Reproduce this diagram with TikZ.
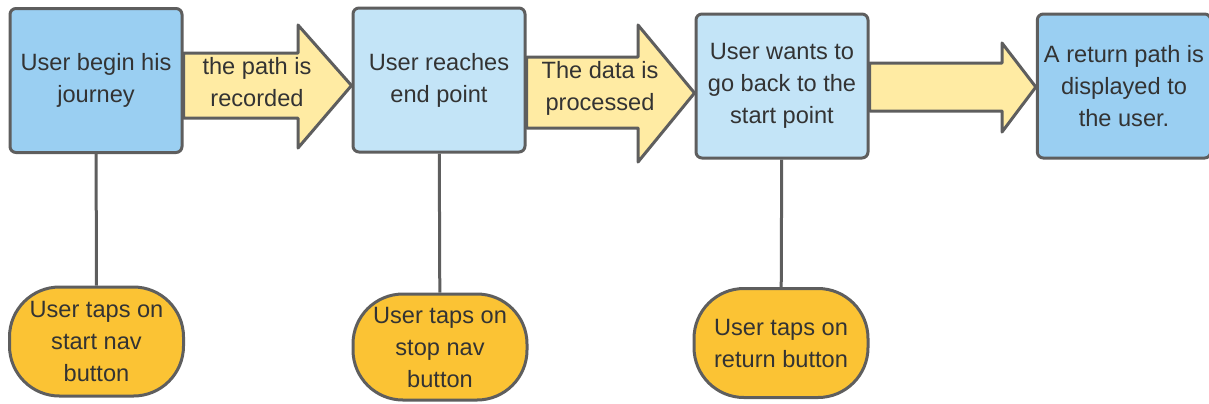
\documentclass[tikz,border=0pt]{standalone}
\usepackage{fontspec}
\setmainfont{Liberation Sans}
\usetikzlibrary{backgrounds}
\definecolor{edge}{HTML}{5E5E5E}
\definecolor{ink}{HTML}{333333}
\definecolor{boxdark}{HTML}{9ACFF2}
\definecolor{boxlight}{HTML}{C3E4F7}
\definecolor{arrowfill}{HTML}{FFEBA3}
\definecolor{tapfill}{HTML}{FBC334}
\tikzset{
  stepbox/.style={draw=edge, line width=1.5pt, rounded corners=3pt, minimum width=86pt, minimum height=72pt, align=center, text=ink, font=\fontsize{11.8}{16}\selectfont},
  darkstep/.style={stepbox, fill=boxdark},
  lightstep/.style={stepbox, fill=boxlight},
  tapnode/.style={draw=edge, fill=tapfill, line width=1.5pt, rounded corners=25pt, minimum width=87pt, minimum height=54.5pt, align=center, text=ink, font=\fontsize{11.8}{16}\selectfont},
  flowarrow/.style={draw=edge, fill=arrowfill, line width=1.5pt, line join=round},
  arrowtext/.style={align=center, text=ink, font=\fontsize{11.8}{16}\selectfont},
  tapline/.style={draw=edge, line width=1.5pt},
}
\begin{document}
\begin{tikzpicture}[x=0.5pt, y=-0.5pt]
\useasboundingbox (0,0) rectangle (1209,403);
% steps along the top
\node[darkstep] (begin) at (96,80.5) {User begin his\\journey};
\node[lightstep] (reach) at (439,80) {User reaches\\end point};
\node[lightstep] (goback) at (782,86) {User wants to\\go back to the\\start point};
\node[darkstep, minimum width=85pt] (shown) at (1124,86) {A return path is\\displayed to\\the user.};
% taps underneath
\node[tapnode] (tapstart) at (96.5,341.5) {User taps on\\start nav\\button};
\node[tapnode, minimum height=53pt] (tapstop) at (440,347) {User taps on\\stop nav\\button};
\node[tapnode] (tapreturn) at (781,343) {User taps on\\return button};
\draw[tapline] (begin) -- (tapstart);
\draw[tapline] (reach) -- (tapstop);
\draw[tapline] (goback) -- (tapreturn);
% block arrows
\begin{pgfonlayer}{background}
\draw[flowarrow] (begin.east |- 0,53) -- (298,53) -- (298,25) -- (reach.west |- 0,85.5) -- (298,148) -- (298,118) -- (begin.east |- 0,118) -- cycle;
\draw[flowarrow] (reach.east |- 0,57) -- (638,57) -- (638,25) -- (goback.west |- 0,93) -- (638,162) -- (638,128) -- (reach.east |- 0,128) -- cycle;
\draw[flowarrow] (goback.east |- 0,63) -- (1002,63) -- (1002,43) -- (shown.west |- 0,87) -- (1002,132) -- (1002,111) -- (goback.east |- 0,111) -- cycle;
\end{pgfonlayer}
\node[arrowtext] (recorded) at (257,82) {the path is\\recorded};
\node[arrowtext] (processed) at (600,88) {The data is\\processed};
\end{tikzpicture}
\end{document}
